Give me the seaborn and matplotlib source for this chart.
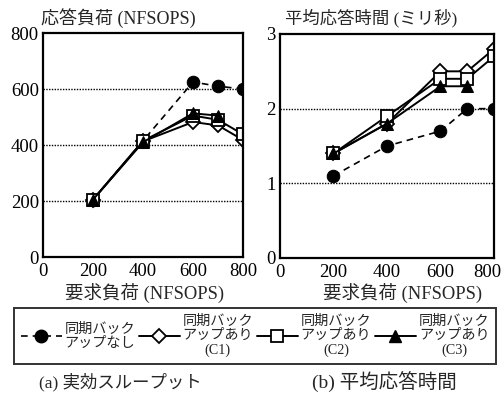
import numpy as np
import pandas as pd
import matplotlib
matplotlib.use("Agg")
import matplotlib.pyplot as plt
import matplotlib.transforms as mtransforms
from matplotlib.lines import Line2D
import seaborn as sns

# Requested load (NFSOPS)
load = [200, 400, 600, 700, 800]

# Effective throughput (NFSOPS)
thr_none = [205, 415, 625, 610, 600]
thr_c1 = [205, 413, 482, 470, 418]
thr_c2 = [205, 415, 505, 490, 438]
thr_c3 = [205, 410, 513, 505, np.nan]

# Mean response time (ms)
rt_none = [1.1, 1.5, 1.7, 2.0, 2.0]
rt_c1 = [1.4, 1.8, 2.5, 2.5, 2.8]
rt_c2 = [1.4, 1.9, 2.4, 2.4, 2.7]
rt_c3 = [1.4, 1.8, 2.3, 2.3, np.nan]

labels = ["同期バック\nアップなし", "同期バック\nアップあり\n(C1)",
          "同期バック\nアップあり\n(C2)", "同期バック\nアップあり\n(C3)"]
xticks = [0, 200, 400, 600, 800]
thr_ticks = [0, 200, 400, 600, 800]
rt_ticks = [0, 1, 2, 3]

sns.set_theme(style="white")
plt.rcParams["font.family"] = ["Liberation Serif", "Noto Sans CJK JP"]

styles = [
    dict(marker="o", markersize=9, markerfacecolor="black", markeredgecolor="black",
         linestyle=(0, (4, 3)), linewidth=1.2),
    dict(marker="D", markersize=7.5, markerfacecolor="white", markeredgecolor="black",
         markeredgewidth=1.3, linestyle="-", linewidth=1.4),
    dict(marker="s", markersize=8.5, markerfacecolor="white", markeredgecolor="black",
         markeredgewidth=1.3, linestyle="-", linewidth=1.4),
    dict(marker="^", markersize=9, markerfacecolor="black", markeredgecolor="black",
         linestyle="-", linewidth=1.4),
]

fig = plt.figure(figsize=(5.02, 3.96), dpi=100)
ax1 = fig.add_axes([43 / 502, 1 - 257 / 396, 200 / 502, 224 / 396])
ax2 = fig.add_axes([280 / 502, 1 - 258 / 396, 214 / 502, 224 / 396])


def draw(ax, series, yticks, ylim):
    for vals, st in zip(series, styles):
        df = pd.DataFrame({"load": load, "v": vals}).dropna()
        sns.lineplot(data=df, x="load", y="v", ax=ax, color="black",
                     estimator=None, sort=False, legend=False, **st)
    ax.set_xlim(0, 800)
    ax.set_ylim(*ylim)
    ax.set_xticks(xticks)
    ax.set_yticks(yticks)
    ax.set_xlabel("")
    ax.set_ylabel("")
    for y in yticks[1:-1]:
        ax.axhline(y, color="black", linestyle=(0, (1, 1)), linewidth=1.0, zorder=0)
    for sp in ax.spines.values():
        sp.set_color("black")
        sp.set_linewidth(1.6)
    ax.tick_params(axis="both", length=0, labelsize=13.5, colors="black")
    ax.tick_params(axis="x", pad=4)
    ax.tick_params(axis="y", pad=3)


draw(ax1, [thr_none, thr_c1, thr_c2, thr_c3], thr_ticks, (0, 800))
draw(ax2, [rt_none, rt_c1, rt_c2, rt_c3], rt_ticks, (0, 3))

# keep the last tick label of the right panel inside the figure
last = ax2.get_xticklabels()[-1]
last.set_transform(last.get_transform() +
                   mtransforms.ScaledTranslation(-7 / 100, 0, fig.dpi_scale_trans))

fig.text(118 / 502, 1 - 18 / 396, "応答負荷 (NFSOPS)", ha="center", va="center", fontsize=13)
fig.text(371 / 502, 1 - 18 / 396, "平均応答時間 (ミリ秒)", ha="center", va="center", fontsize=12.5)
fig.text(145 / 502, 1 - 293 / 396, "要求負荷 (NFSOPS)", ha="center", va="center", fontsize=13.3)
fig.text(403 / 502, 1 - 293 / 396, "要求負荷 (NFSOPS)", ha="center", va="center", fontsize=13.3)
fig.text(120 / 502, 1 - 382 / 396, "(a) 実効スループット", ha="center", va="center", fontsize=12.5)
fig.text(384 / 502, 1 - 382 / 396, "(b) 平均応答時間", ha="center", va="center", fontsize=14)

handles = [Line2D([], [], color="black", **st) for st in styles]
leg = fig.legend(handles, labels, ncol=4, loc="center",
                 bbox_to_anchor=(255 / 502, 1 - 336 / 396),
                 frameon=True, fancybox=False, fontsize=10.2,
                 handlelength=2.9, handletextpad=0.2, columnspacing=0.25,
                 borderpad=0.5, borderaxespad=0, labelspacing=0.2)
leg.get_frame().set_edgecolor("black")
leg.get_frame().set_linewidth(1.4)
for t in leg.get_texts():
    t.set_multialignment("center")
    t.set_linespacing(1.1)

fig.savefig("out.png", dpi=100)
